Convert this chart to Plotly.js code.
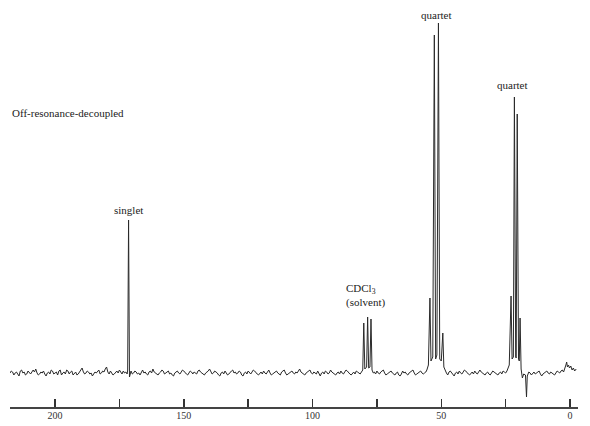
<!DOCTYPE html>
<html>
<head>
<meta charset="utf-8">
<script src="https://cdn.plot.ly/plotly-3.0.1.min.js"></script>
<style>html,body{margin:0;padding:0;background:#fff;}#chart{width:590px;height:426px;}</style>
</head>
<body>
<div id="chart"></div>
<script>
// Chemical shift (ppm) and signal intensity pairs
const regionA = [[217.5,0],[217,2],[216.5,1],[216,-2],[215.5,0],[215,1],[214.5,-1],[214,-3],[213.5,2],[213,3],[212.5,0],[212,1],[211.5,-2],[211,-1],[210.5,2],[210,0],[209.5,-1],[209,1],[208.5,3],[208,1],[207.5,4],[207,0],[206.5,-2],[206,-1],[205.5,1],[205,0],[204.5,2],[204,-1],[203.5,-3],[203,0],[202.5,1],[202,-1],[201.5,3],[201,2],[200.5,-1],[200,0],[199.5,1],[199,-2],[198.5,2],[198,3],[197.5,-2],[197,0],[196.5,1],[196,-1],[195.5,3],[195,2],[194.5,-1],[194,1],[193.5,2],[193,-2],[192.5,0],[192,1],[191.5,-2],[191,-1],[190.5,1],[190,3],[189.5,5],[189,1],[188.5,-1],[188,0],[187.5,2],[187,1],[186.5,-1],[186,0],[185.5,-3],[185,-1],[184.5,1],[184,0],[183.5,2],[183,3],[182.5,-1],[182,0],[181.5,2],[181,1],[180.5,4],[180,6],[179.5,1],[179,-1],[178.5,2],[178,0],[177.5,-2],[177,-1],[176.5,1],[176,2],[175.5,0],[175,3],[174.5,1],[174,-1],[173.5,2],[173,0],[172.5,1],[172,-1]];
const singlet = [[171.8,3],[171.45,153],[171.1,-4],[170.8,1]];
const regionB = [[170.5,2],[170,-1],[169.5,0],[169,2],[168.5,1],[168,-1],[167.5,0],[167,-2],[166.5,1],[166,3],[165.5,0],[165,1],[164.5,-1],[164,-2],[163.5,1],[163,2],[162.5,0],[162,4],[161.5,1],[161,0],[160.5,-1],[160,-2],[159.5,0],[159,1],[158.5,3],[158,2],[157.5,-1],[157,0],[156.5,1],[156,2],[155.5,-1],[155,0],[154.5,-2],[154,-3],[153.5,0],[153,1],[152.5,2],[152,0],[151.5,-1],[151,1],[150.5,3],[150,2],[149.5,0],[149,-1],[148.5,-2],[148,0],[147.5,2],[147,1],[146.5,-1],[146,1],[145.5,0],[145,-1],[144.5,2],[144,3],[143.5,1],[143,0],[142.5,-1],[142,-2],[141.5,0],[141,1],[140.5,2],[140,4],[139.5,1],[139,-1],[138.5,0],[138,2],[137.5,1],[137,0],[136.5,-2],[136,-3],[135.5,0],[135,1],[134.5,-1],[134,2],[133.5,0],[133,-2],[132.5,-1],[132,1],[131.5,2],[131,3],[130.5,0],[130,1],[129.5,-1],[129,0],[128.5,2],[128,1],[127.5,-2],[127,-3],[126.5,0],[126,1],[125.5,-1],[125,2],[124.5,0],[124,-1],[123.5,1],[123,3],[122.5,2],[122,0],[121.5,-1],[121,-2],[120.5,0],[120,1],[119.5,-1],[119,2],[118.5,0],[118,-1],[117.5,1],[117,3],[116.5,0],[116,-2],[115.5,-1],[115,0],[114.5,1],[114,2],[113.5,0],[113,-1],[112.5,-2],[112,1],[111.5,2],[111,3],[110.5,0],[110,-2],[109.5,-1],[109,0],[108.5,1],[108,2],[107.5,0],[107,-1],[106.5,1],[106,0],[105.5,2],[105,4],[104.5,1],[104,0],[103.5,-1],[103,-2],[102.5,0],[102,1],[101.5,2],[101,3],[100.5,0],[100,-1],[99.5,1],[99,0],[98.5,-1],[98,2],[97.5,-1],[97,-3],[96.5,0],[96,1],[95.5,-1],[95,2],[94.5,1],[94,-1],[93.5,0],[93,3],[92.5,1],[92,0],[91.5,-1],[91,-2],[90.5,0],[90,1],[89.5,-1],[89,2],[88.5,0],[88,-1],[87.5,1],[87,3],[86.5,2],[86,0],[85.5,-1],[85,-2],[84.5,0],[84,1],[83.5,-1],[83,2],[82.5,1],[82,0],[81.5,-1],[81,1]];
const solvent = [[80.5,3],[80.1,50],[79.7,4],[79.0,6],[78.6,56],[78.2,5],[77.7,6],[77.3,54],[76.9,3],[76.4,0]];
const regionC = [[76,1],[75.5,-1],[75,2],[74.5,0],[74,-1],[73.5,1],[73,2],[72.5,3],[72,0],[71.5,-2],[71,-1],[70.5,0],[70,1],[69.5,2],[69,0],[68.5,-1],[68,-2],[67.5,0],[67,1],[66.5,-2],[66,-3],[65.5,-1],[65,2],[64.5,0],[64,1],[63.5,-1],[63,-2],[62.5,0],[62,1],[61.5,2],[61,3],[60.5,0],[60,-2],[59.5,-1],[59,0],[58.5,1],[58,2],[57.5,0],[57,-1],[56.5,0],[56,1]];
const quartet1 = [[55.6,3],[55.0,8],[54.4,75],[54.0,12],[53.3,16],[52.7,338],[52.2,14],[51.7,18],[51.1,350],[50.6,14],[50.0,12],[49.4,40],[49.0,6],[48.4,1]];
const regionD = [[48,0],[47.5,-2],[47,1],[46.5,2],[46,0],[45.5,-1],[45,-3],[44.5,0],[44,1],[43.5,-1],[43,2],[42.5,0],[42,-1],[41.5,1],[41,3],[40.5,2],[40,0],[39.5,-1],[39,-2],[38.5,0],[38,1],[37.5,-1],[37,2],[36.5,0],[36,-1],[35.5,1],[35,3],[34.5,1],[34,0],[33.5,-1],[33,-2],[32.5,0],[32,1],[31.5,-1],[31,-2],[30.5,0],[30,2],[29.5,1],[29,0],[28.5,-1],[28,-2],[27.5,0],[27,1],[26.5,-1],[26,2],[25.5,1],[25,0],[24.5,2]];
const quartet2 = [[23.6,8],[22.9,77],[22.5,14],[22.0,16],[21.6,276],[21.1,16],[20.9,15],[20.5,259],[20.0,14],[19.7,12],[19.4,55],[19.0,4],[18.5,-5],[18.0,-1],[17.3,-2],[16.9,-24],[16.6,-3],[16.0,1]];
const regionE = [[15.5,0],[15,-2],[14.5,0],[14,1],[13.5,-1],[13,0],[12.5,1],[12,2],[11.5,-1],[11,-3],[10.5,-1],[10,0],[9.5,1],[9,2],[8.5,0],[8,-1],[7.5,1],[7,0],[6.5,-1],[6,-2],[5.5,0],[5,2],[4.5,1],[4,0],[3.5,2],[3,3],[2.5,1],[2,4],[1.6,8],[1.3,11],[1.0,6],[0.6,8],[0.2,5],[-0.3,7],[-0.8,3],[-1.3,5],[-1.8,2],[-2.4,4]];

const majorTickVals = [200,150,100,50,0];
const majorTickText = ['200','150','100','50','0'];
const minorTickVals = [175,125,75,25];

const labelText = ['quartet','quartet','singlet','CDCl<sub>3</sub>','(solvent)'];
const labelPpm  = [52.0, 22.3, 171.6, 81.0, 79.6];
const labelY    = [358, 288, 163, 84, 71];

const spectrum = [].concat(regionA, singlet, regionB, solvent, regionC, quartet1, regionD, quartet2, regionE);
const x = spectrum.map(p => p[0]);
const y = spectrum.map(p => p[1]);

const serif = 'Liberation Serif, Times New Roman, serif';
const annotations = labelText.map((t, i) => ({
  x: labelPpm[i], y: labelY[i], xref: 'x', yref: 'y', text: t, showarrow: false,
  font: {family: serif, size: 11, color: '#222'}, xanchor: 'center', yanchor: 'middle'
}));
annotations.push({
  x: 0, y: 0.723, xref: 'paper', yref: 'paper', text: 'Off-resonance-decoupled', showarrow: false,
  font: {family: serif, size: 11, color: '#222'}, xanchor: 'left', yanchor: 'middle'
});

Plotly.newPlot('chart', [{
  x: x, y: y, type: 'scatter', mode: 'lines',
  line: {color: '#2a2a2a', width: 1}, hoverinfo: 'skip'
}], {
  width: 590, height: 426,
  margin: {l: 10, r: 12, t: 0, b: 19, pad: 0},
  paper_bgcolor: '#fff', plot_bgcolor: '#fff',
  showlegend: false,
  xaxis: {
    range: [217.5, -3.1], autorange: false,
    tickmode: 'array', tickvals: majorTickVals, ticktext: majorTickText,
    ticks: 'inside', ticklen: 8, tickwidth: 1.5, tickcolor: '#333',
    minor: {tickmode: 'array', tickvals: minorTickVals, ticks: 'inside', ticklen: 8, tickwidth: 1.5, tickcolor: '#333', showgrid: false},
    showline: true, linecolor: '#444', linewidth: 2,
    showgrid: false, zeroline: false,
    ticklabelstandoff: -2,
    tickfont: {family: serif, size: 10, color: '#333'}
  },
  yaxis: {
    range: [-34, 373], autorange: false,
    visible: false, showgrid: false, zeroline: false
  },
  annotations: annotations
}, {staticPlot: true});
</script>
</body>
</html>
